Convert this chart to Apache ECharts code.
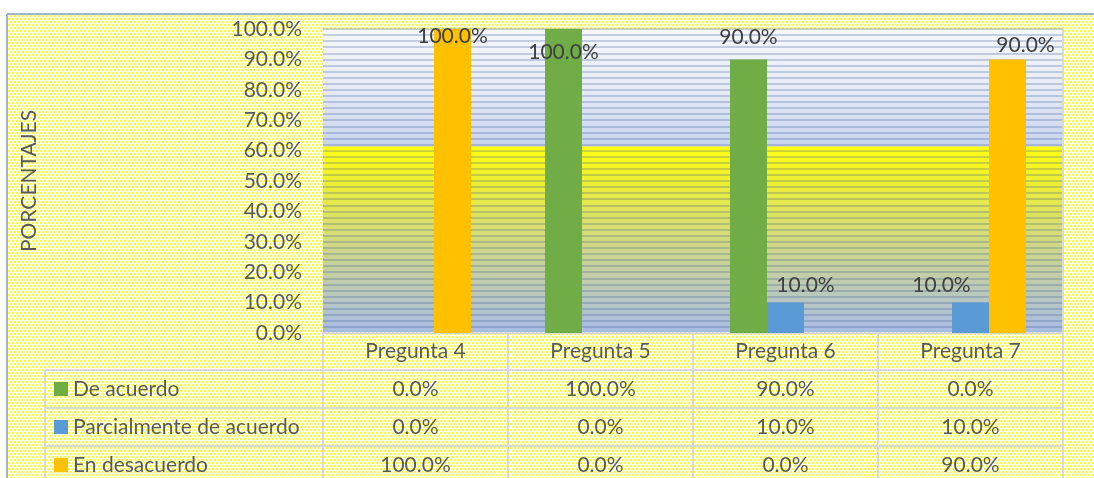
<!DOCTYPE html>
<html><head><meta charset="utf-8">
<script src="https://cdn.jsdelivr.net/npm/echarts@6/dist/echarts.min.js"></script>
<style>html,body{margin:0;padding:0;background:#fff}#c{width:1094px;height:478px}</style>
</head><body><div id="c"></div><script>
// ---- data ----
const categories = ['Pregunta 4', 'Pregunta 5', 'Pregunta 6', 'Pregunta 7'];
const seriesNames = ['De acuerdo', 'Parcialmente de acuerdo', 'En desacuerdo'];
const deAcuerdo = [0, 100, 90, 0];
const parcialmente = [0, 0, 10, 10];
const enDesacuerdo = [100, 0, 0, 90];
const axisTitle = 'PORCENTAJES';

// ---- styles ----
const seriesColors = ['#70ad47', '#5b9bd5', '#ffc000'];
const labelOffsets = [
  [[0, 0], [0, 38], [0, -8], [0, 0]],
  [[0, 0], [0, 0], [20, -3], [-29, -3]],
  [[0, 22], [0, 0], [0, 0], [18, 0]]
];
const FONT = 'Lato';
const FS = 21;
const TXT = '#595959';
const LINE = '#d9d9d9';

const allSeries = [deAcuerdo, parcialmente, enDesacuerdo];
const fmt = v => v.toFixed(1) + '%';

// dotted yellow pattern
const pc = document.createElement('canvas');
pc.width = 4; pc.height = 6;
const pctx = pc.getContext('2d');
pctx.fillStyle = '#ffffff'; pctx.fillRect(0, 0, 4, 6);
pctx.fillStyle = '#ffff1a';
pctx.fillRect(0, 0, 2, 2); pctx.fillRect(2, 3, 2, 2);

const G = { left: 323, right: 31, top: 29, bottom: 145 };

const chart = echarts.init(document.getElementById('c'), null, { renderer: 'canvas' });

const option = {
  animation: false,
  backgroundColor: '#ffffff',
  textStyle: { fontFamily: FONT },
  grid: {
    left: G.left, right: G.right, top: G.top, bottom: G.bottom,
    show: true, borderWidth: 0,
    backgroundColor: {
      type: 'linear', x: 0, y: 0, x2: 0, y2: 1,
      colorStops: [
        { offset: 0, color: '#f6f8fc' },
        { offset: 0.2, color: '#e6ebf6' },
        { offset: 0.385, color: '#c8d4ee' },
        { offset: 0.388, color: '#ffff14' },
        { offset: 0.5, color: '#eef030' },
        { offset: 0.65, color: '#d9df70' },
        { offset: 0.8, color: '#c4cfa4' },
        { offset: 1, color: '#a8bde6' }
      ]
    }
  },
  xAxis: {
    type: 'category',
    data: categories,
    axisLine: { show: true, lineStyle: { color: LINE, width: 2 } },
    axisTick: { show: false },
    axisLabel: { fontFamily: FONT, fontSize: FS, color: TXT, margin: 8 },
    splitLine: { show: false }
  },
  yAxis: [{
    type: 'value', min: 0, max: 100, interval: 10,
    name: axisTitle, nameLocation: 'middle', nameRotate: 90, nameGap: 283,
    nameTextStyle: { fontFamily: FONT, fontSize: 21, color: TXT },
    axisLine: { show: false }, axisTick: { show: false },
    axisLabel: { fontFamily: FONT, fontSize: FS, color: TXT, margin: 21, formatter: v => fmt(v) },
    splitLine: { show: false }
  }, {
    type: 'value', min: 0, max: 100, interval: 2, position: 'right',
    axisLine: { show: false }, axisTick: { show: false }, axisLabel: { show: false },
    splitLine: { show: true, lineStyle: { color: 'rgba(60,90,150,0.26)', width: 2 } }
  }],
  series: allSeries.map((vals, s) => ({
    name: seriesNames[s],
    type: 'bar',
    yAxisIndex: 0,
    barGap: '0%',
    barCategoryGap: '40%',
    itemStyle: { color: seriesColors[s] },
    label: {
      show: true, position: 'top', distance: 4,
      fontFamily: FONT, fontSize: FS, color: '#404040',
      formatter: p => p.value === 0 ? '' : fmt(p.value)
    },
    data: vals.map((v, i) => ({ value: v, label: { offset: labelOffsets[s][i] } }))
  }))
};
chart.setOption(option);

// ---- background, border and data table ----
function buildGraphics() {
  const W = 1094, H = 478;
  const gl = G.left, gr = W - G.right, gb = H - G.bottom;
  const bw = (gr - gl) / categories.length;
  const centers = categories.map(c => chart.convertToPixel({ xAxisIndex: 0 }, c));
  const rowTop = gb + 37, rowH = 38;
  const legendLeft = 45;
  const els = [];
  els.push({ type: 'rect', z: -100, silent: true, shape: { x: 7, y: 14, width: W - 7, height: H - 14 },
    style: { fill: { image: pc, repeat: 'repeat' } } });
  // chart border
  els.push({ type: 'line', z: 50, silent: true, shape: { x1: 7, y1: 14, x2: W, y2: 14 }, style: { stroke: '#a3b3cf', lineWidth: 2 } });
  els.push({ type: 'line', z: 50, silent: true, shape: { x1: 7, y1: 14, x2: 7, y2: H }, style: { stroke: '#a3b3cf', lineWidth: 2 } });
  // vertical table lines
  centers.forEach((cx) => {
    const x = cx - bw / 2;
    els.push({ type: 'line', z: 20, silent: true, shape: { x1: x, y1: gb, x2: x, y2: H }, style: { stroke: LINE, lineWidth: 2 } });
  });
  els.push({ type: 'line', z: 20, silent: true, shape: { x1: gr, y1: G.top, x2: gr, y2: H }, style: { stroke: LINE, lineWidth: 2 } });
  els.push({ type: 'line', z: 20, silent: true, shape: { x1: legendLeft, y1: rowTop, x2: legendLeft, y2: H }, style: { stroke: LINE, lineWidth: 2 } });
  // horizontal rows
  seriesNames.forEach((name, s) => {
    const y = rowTop + s * rowH;
    els.push({ type: 'line', z: 20, silent: true, shape: { x1: legendLeft, y1: y, x2: gr, y2: y }, style: { stroke: LINE, lineWidth: 2 } });
    const cy = y + rowH / 2;
    els.push({ type: 'rect', z: 30, silent: true, shape: { x: 54, y: cy - 7, width: 14, height: 14 }, style: { fill: seriesColors[s] } });
    els.push({ type: 'text', z: 30, silent: true, x: 73, y: cy,
      style: { text: name, font: FS + 'px ' + FONT, fill: TXT, align: 'left', verticalAlign: 'middle' } });
    allSeries[s].forEach((v, i) => {
      els.push({ type: 'text', z: 30, silent: true, x: centers[i], y: cy,
        style: { text: fmt(v), font: FS + 'px ' + FONT, fill: TXT, align: 'center', verticalAlign: 'middle' } });
    });
  });
  chart.setOption({ graphic: { elements: els } });
}
buildGraphics();
</script></body></html>
